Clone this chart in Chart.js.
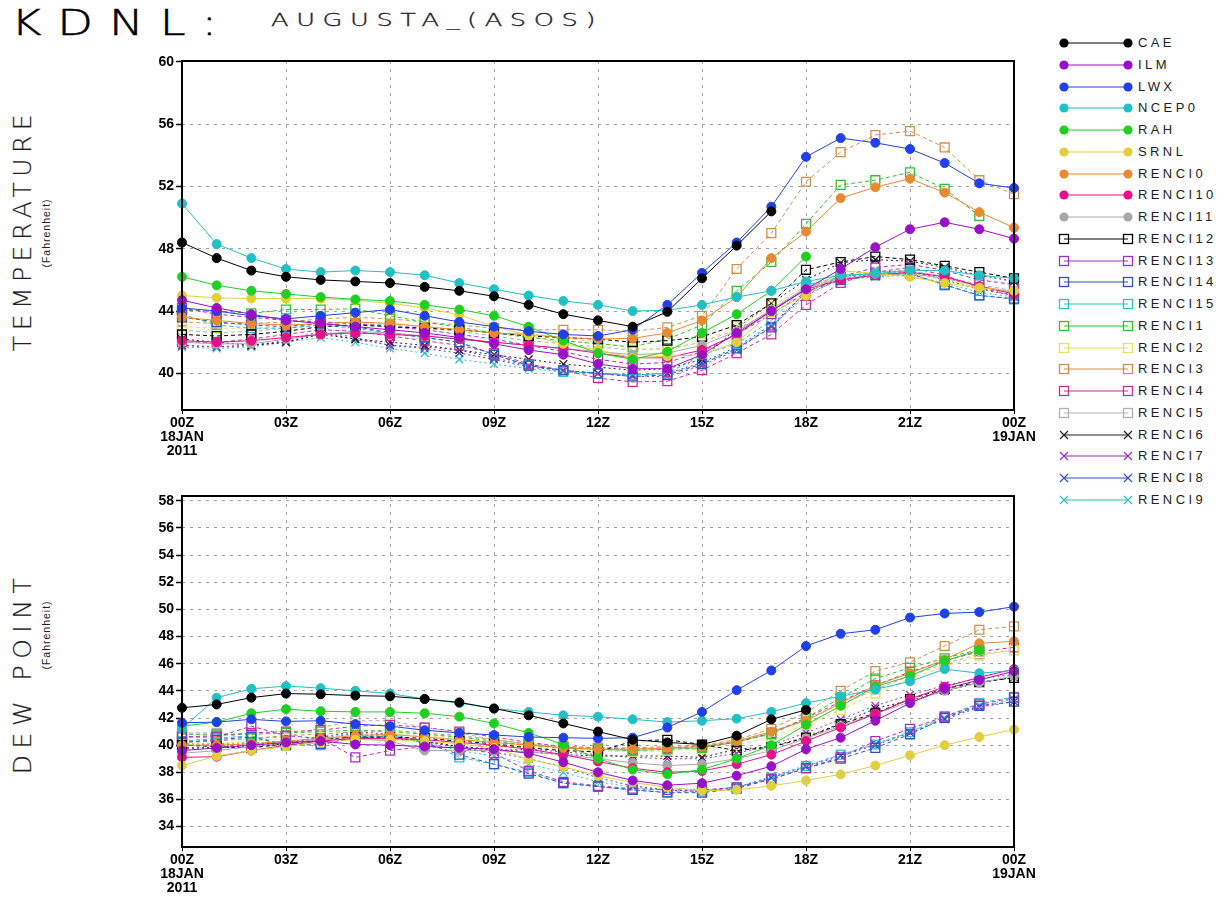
<!DOCTYPE html>
<html>
<head>
<meta charset="utf-8">
<script src="https://cdn.jsdelivr.net/npm/chart.js@4.4.1/dist/chart.umd.min.js"></script>
<style>
  body { margin: 0; background: #fff; width: 1223px; height: 901px; position: relative; overflow: hidden;
         font-family: "Liberation Sans", Arial, sans-serif; }
  .abs { position: absolute; white-space: nowrap; }
  .thin { font-family: "DejaVu Sans", "Liberation Sans"; font-weight: 200; color: #000; -webkit-text-stroke: 0.5px #000; }
  .rot { position: absolute; transform: translate(-50%, -50%) rotate(-90deg); white-space: nowrap; color: #222; }
  #legend .item { position: absolute; left: 1058px; height: 16px; }
  #legend .item span { position: absolute; left: 80px; top: 0px; font-size: 13px; letter-spacing: 3.4px; color: #222; line-height: 16px; }
</style>
</head>
<body>
<div id="t1" class="abs thin" style="left:11px;top:3px;font-size:35px;letter-spacing:12px;transform-origin:0 0;">KDNL:</div>
<div id="t2" class="abs thin" style="left:271px;top:10px;font-size:17px;letter-spacing:5px;transform-origin:0 0;-webkit-text-stroke:0.3px #222;color:#222;">AUGUSTA_(ASOS)</div>

<div class="rot thin" style="left:22px;top:230px;font-size:25px;letter-spacing:5.5px;color:#222;-webkit-text-stroke:0.2px #222;">TEMPERATURE</div>
<div class="rot" style="left:46px;top:233px;font-size:10.5px;letter-spacing:1px;">(Fahrenheit)</div>
<div class="rot thin" style="left:22px;top:673px;font-size:25px;letter-spacing:6.5px;color:#222;-webkit-text-stroke:0.2px #222;">DEW POINT</div>
<div class="rot" style="left:46px;top:635px;font-size:10.5px;letter-spacing:1px;">(Fahrenheit)</div>

<div class="abs" style="left:130px;top:50px;width:909px;height:410px;"><canvas id="temp"></canvas></div>
<div class="abs" style="left:130px;top:486px;width:909px;height:416px;"><canvas id="dew"></canvas></div>
<div id="legend"></div>

<script>
// hours 00Z 18 Jan -> 00Z 19 Jan
const hours = ["00","01","02","03","04","05","06","07","08","09","10","11","12",
               "13","14","15","16","17","18","19","20","21","22","23","00"];
const tempTicks = [40, 44, 48, 52, 56, 60];
const dewTicks = [34, 36, 38, 40, 42, 44, 46, 48, 50, 52, 54, 56, 58];

const names = ["CAE","ILM","LWX","NCEP0","RAH","SRNL","RENCI0","RENCI10","RENCI11","RENCI12","RENCI13",
               "RENCI14","RENCI15","RENCI1","RENCI2","RENCI3","RENCI4","RENCI5","RENCI6","RENCI7","RENCI8","RENCI9"];
const colors = ["#000000","#9a10c8","#2040e8","#20c0c4","#20d020","#e0d040","#e88a30","#e8108a","#a8a8a8","#000000","#a030c0",
                "#3050c8","#30c0d0","#30c030","#e8e060","#d09050","#c83090","#b0b0b0","#202020","#a030c0","#3050c8","#30c0c0"];
const kinds = ["dot","dot","dot","dot","dot","dot","dot","dot","dot","sq","sq",
               "sq","sq","sq","sq","sq","sq","sq","x","x","x","x"];

// temperature (F)
const t_CAE    = [48.4,47.4,46.6,46.2,46.0,45.9,45.8,45.55,45.3,44.95,44.4,43.8,43.4,43.0,43.95,46.1,48.2,50.4,null,null,null,null,null,null,null];
const t_ILM    = [44.7,44.2,43.8,43.4,43.2,43.0,42.8,42.6,42.3,41.9,41.5,41.2,40.6,40.3,40.3,41.2,42.6,44.0,45.4,46.7,48.1,49.25,49.7,49.25,48.65];
const t_LWX    = [44.2,44.0,43.7,43.5,43.7,43.9,44.1,43.7,43.3,43.0,42.7,42.5,42.4,42.8,44.4,46.45,48.4,50.7,53.9,55.1,54.8,54.4,53.5,52.2,51.9];
const t_NCEP0  = [50.9,48.3,47.4,46.7,46.5,46.6,46.5,46.3,45.8,45.4,45.0,44.65,44.4,44.0,44.05,44.4,44.9,45.3,45.9,46.3,46.4,46.6,46.6,46.3,46.1];
const t_RAH    = [46.2,45.65,45.3,45.1,44.9,44.75,44.65,44.4,44.1,43.7,43.0,42.1,41.3,40.9,41.4,42.6,43.8,45.3,47.5,null,null,null,null,null,null];
const t_SRNL   = [45.0,44.85,44.8,44.8,44.8,44.7,44.5,44.2,43.75,43.0,42.45,41.9,41.5,41.0,41.1,41.2,42.0,43.9,45.0,46.6,46.4,46.2,45.8,45.5,45.3];
const t_RENCI0 = [43.6,43.4,43.2,43.1,43.2,43.3,43.2,43.0,42.8,42.6,42.5,42.3,42.2,42.25,42.6,43.4,44.9,47.4,49.1,51.25,51.95,52.5,51.6,50.35,49.35];
const t_RENCI10= [42.1,42.0,42.1,42.3,42.5,42.6,42.5,42.4,42.2,42.0,41.8,41.6,41.3,41.0,41.0,41.5,42.5,44.0,45.4,46.0,46.3,46.5,46.2,45.6,45.1];
const t_RENCI11= [42.0,41.9,41.9,42.2,42.5,42.7,42.6,42.4,42.2,42.0,41.8,41.6,41.4,41.2,41.3,41.8,42.7,44.1,45.5,46.1,46.3,46.4,46.1,45.6,45.2];
const t_RENCI12= [42.5,42.4,42.5,42.7,43.0,43.1,43.0,42.9,42.8,42.6,42.4,42.3,42.2,42.0,42.1,42.35,43.1,44.5,46.65,47.15,47.5,47.3,46.9,46.5,46.1];
const t_RENCI13= [44.2,43.8,43.6,43.4,43.3,43.2,43.0,42.8,42.5,42.2,41.8,41.4,40.9,40.6,40.7,41.4,42.5,43.8,45.2,46.2,46.8,47.0,46.6,46.0,45.7];
const t_RENCI14= [43.6,43.3,43.1,43.0,43.2,43.0,42.6,42.3,42.0,41.2,40.5,40.2,40.0,39.8,39.9,40.6,41.6,42.95,45.25,46.0,46.3,46.4,45.7,45.0,44.8];
const t_RENCI15= [43.8,43.1,42.9,42.9,43.1,42.9,42.6,42.3,42.0,41.2,40.5,40.1,40.0,39.9,40.0,41.2,41.9,43.4,45.65,46.2,46.4,46.4,45.65,45.0,44.75];
const t_RENCI1 = [44.05,44.0,43.85,44.1,44.1,44.15,43.7,43.3,42.95,42.6,42.3,42.1,41.9,41.7,42.2,43.1,45.3,47.15,49.6,52.1,52.4,52.9,51.85,50.1,null];
const t_RENCI2 = [43.0,42.9,42.9,43.0,43.2,43.3,43.2,43.0,42.8,42.6,42.4,42.3,42.0,41.6,41.5,42.0,43.0,44.3,45.6,46.3,46.5,46.4,46.0,45.5,45.2];
const t_RENCI3 = [43.3,43.2,43.2,43.3,43.5,43.6,43.5,43.3,43.1,42.9,42.8,42.8,42.8,42.7,42.95,43.7,46.7,49.0,52.3,54.2,55.3,55.55,54.5,52.4,51.5];
const t_RENCI4 = [42.0,42.0,42.2,42.5,42.8,42.7,42.4,42.1,41.8,41.3,40.6,40.2,39.7,39.45,39.5,40.2,41.3,42.5,44.4,45.8,46.5,46.8,46.3,45.5,45.0];
const t_RENCI5 = [42.8,42.6,42.7,42.9,43.1,43.2,43.1,42.9,42.7,42.4,42.1,41.9,41.7,41.5,41.6,42.0,42.8,44.0,45.5,46.2,46.5,46.6,46.2,45.7,45.3];
const t_RENCI6 = [42.2,42.0,41.8,42.0,42.5,42.2,42.0,41.8,41.5,41.2,40.9,40.6,40.4,40.2,40.3,40.9,42.9,44.5,46.0,47.1,47.3,47.2,46.8,46.3,45.9];
const t_RENCI7 = [41.8,41.7,41.8,42.0,42.6,42.2,41.8,41.7,41.5,41.0,40.5,40.2,40.0,39.8,39.8,40.5,41.5,43.0,45.0,46.1,46.4,46.5,46.2,45.6,45.1];
const t_RENCI8 = [41.8,41.7,41.8,42.1,42.7,42.3,41.8,41.6,41.3,40.9,40.4,40.2,40.0,39.9,40.0,40.7,41.7,43.1,45.2,46.2,46.5,46.6,46.0,45.4,45.0];
const t_RENCI9 = [41.7,41.6,41.7,42.0,42.3,42.0,41.6,41.3,40.9,40.6,40.3,40.1,40.0,39.9,40.0,40.6,41.6,43.0,45.1,46.0,46.2,46.3,45.8,45.2,44.9];

// dew point (F)
const d_CAE    = [42.75,43.0,43.5,43.8,43.75,43.65,43.6,43.4,43.15,42.7,42.2,41.6,41.0,40.4,40.2,40.05,40.7,41.9,42.6,null,null,null,null,null,null];
const d_ILM    = [39.6,39.8,40.0,40.2,40.3,40.05,40.0,39.9,39.8,39.7,39.4,38.75,38.0,37.4,37.05,37.2,37.75,38.45,39.7,40.55,41.8,43.1,44.15,44.8,45.45];
const d_LWX    = [41.65,41.7,41.9,41.75,41.8,41.55,41.4,41.1,40.9,40.75,40.6,40.55,40.5,40.55,41.3,42.45,44.05,45.5,47.3,48.2,48.5,49.4,49.7,49.8,50.2];
const d_NCEP0  = [41.2,43.5,44.15,44.35,44.2,44.0,43.8,43.4,43.1,42.7,42.45,42.2,42.1,41.9,41.7,41.8,41.95,42.45,43.1,43.6,44.1,44.7,45.6,45.3,45.5];
const d_RAH    = [41.4,41.7,42.35,42.65,42.5,42.45,42.45,42.35,42.1,41.6,40.9,40.05,39.0,38.2,37.85,38.2,39.0,40.0,41.5,42.9,44.3,45.1,46.2,47.0,null];
const d_SRNL   = [38.5,39.2,39.6,39.9,40.2,40.4,40.4,40.3,40.1,39.8,38.95,38.4,37.75,37.25,36.9,36.65,36.7,37.0,37.4,37.85,38.5,39.25,40.0,40.6,41.15];
const d_RENCI0 = [40.0,40.0,40.1,40.3,40.5,40.7,40.8,40.6,40.4,40.2,40.0,39.8,39.7,39.7,39.8,39.9,40.3,41.0,41.8,43.1,44.4,45.3,46.3,47.5,47.65];
const d_RENCI10= [39.1,39.15,39.6,40.0,40.3,40.5,40.5,40.4,40.2,40.0,39.7,39.3,38.8,38.3,38.0,38.1,38.6,39.3,40.3,41.3,42.3,43.4,44.3,45.0,45.6];
const d_RENCI11= [39.4,39.6,39.9,40.2,40.4,40.5,40.3,39.6,39.6,39.6,39.5,39.3,39.0,38.7,38.5,38.6,39.0,39.6,40.5,41.4,42.3,43.2,44.0,44.6,45.1];
const d_RENCI12= [40.0,39.9,39.8,40.1,40.4,40.6,40.6,40.5,40.3,40.1,39.8,39.6,39.5,40.3,40.4,40.05,39.6,39.85,40.55,41.55,42.35,43.4,44.15,44.65,44.95];
const d_RENCI13= [40.6,40.6,41.4,40.7,40.5,39.1,39.6,39.9,39.8,39.4,38.1,37.3,37.0,36.8,36.7,36.7,36.9,37.5,38.3,39.1,40.3,41.2,42.1,43.0,43.5];
const d_RENCI14= [40.2,40.4,40.6,40.0,40.1,40.5,40.6,40.2,39.3,38.6,37.9,37.2,36.95,36.7,36.5,36.5,36.8,37.5,38.3,39.0,39.8,40.8,42.0,42.9,43.2];
const d_RENCI15= [40.3,40.5,40.7,40.0,40.0,40.6,40.7,40.3,39.1,38.6,38.0,37.2,36.95,36.7,36.55,36.6,36.9,37.6,38.45,39.3,40.05,40.95,42.1,43.1,43.55];
const d_RENCI1 = [40.8,40.8,40.8,40.9,41.0,41.1,41.0,40.8,40.6,40.3,40.0,39.8,39.7,39.6,39.7,39.8,40.3,40.8,42.0,43.5,44.9,45.7,46.4,47.05,null];
const d_RENCI2 = [40.0,40.1,40.3,40.5,40.6,40.8,40.8,40.7,40.5,40.2,39.9,39.7,39.6,39.5,39.6,39.7,40.0,40.6,41.5,42.6,43.8,44.9,45.8,46.6,47.0];
const d_RENCI3 = [40.2,40.3,40.5,40.7,40.8,41.0,41.1,40.9,40.7,40.4,40.1,39.9,39.8,39.8,39.9,40.0,40.4,41.2,42.4,44.0,45.45,46.1,47.3,48.5,48.75];
const d_RENCI4 = [40.6,40.7,40.9,41.0,41.1,41.4,41.5,41.3,41.0,40.6,40.2,39.9,39.8,39.7,39.8,39.9,40.2,40.9,42.0,43.2,44.4,45.4,46.2,46.9,47.2];
const d_RENCI5 = [40.9,40.9,40.5,40.6,41.3,41.8,41.8,41.3,40.9,40.4,40.1,39.8,39.7,39.6,39.7,39.8,40.2,40.9,41.9,43.0,44.1,45.1,46.0,46.7,47.0];
const d_RENCI6 = [39.8,39.8,39.9,40.1,40.4,40.6,40.5,40.3,39.9,39.7,39.5,39.3,39.2,39.2,39.2,39.1,39.7,39.9,40.6,41.6,42.7,43.3,44.0,44.6,45.0];
const d_RENCI7 = [39.7,39.9,40.0,40.2,40.6,40.8,40.6,40.2,39.9,39.6,39.7,39.5,39.3,39.1,39.0,39.0,39.4,40.0,40.9,41.9,42.9,43.7,44.4,44.9,45.2];
const d_RENCI8 = [40.0,40.0,40.1,40.1,40.6,41.0,40.8,40.3,39.8,39.5,39.0,38.4,37.6,37.0,36.7,36.6,36.9,37.6,38.4,39.2,40.0,40.9,41.9,42.8,43.2];
const d_RENCI9 = [40.1,40.1,40.2,40.1,40.5,40.9,40.7,40.2,39.6,39.2,38.6,38.0,37.3,36.9,36.7,36.6,36.9,37.7,38.5,39.3,40.1,41.0,42.0,42.9,43.4];

const tempSeries = [t_CAE,t_ILM,t_LWX,t_NCEP0,t_RAH,t_SRNL,t_RENCI0,t_RENCI10,t_RENCI11,t_RENCI12,t_RENCI13,
                    t_RENCI14,t_RENCI15,t_RENCI1,t_RENCI2,t_RENCI3,t_RENCI4,t_RENCI5,t_RENCI6,t_RENCI7,t_RENCI8,t_RENCI9];
const dewSeries = [d_CAE,d_ILM,d_LWX,d_NCEP0,d_RAH,d_SRNL,d_RENCI0,d_RENCI10,d_RENCI11,d_RENCI12,d_RENCI13,
                   d_RENCI14,d_RENCI15,d_RENCI1,d_RENCI2,d_RENCI3,d_RENCI4,d_RENCI5,d_RENCI6,d_RENCI7,d_RENCI8,d_RENCI9];

// stretch the two header lines to the widths they have in the plot
const fitWidth = (id, w) => {
  const el = document.getElementById(id);
  el.style.transform = `scaleX(${w / el.getBoundingClientRect().width})`;
};
fitWidth("t1", 222);
fitWidth("t2", 332);

const makeSets = (series) => names.map((n, i) => {
  const k = kinds[i];
  return {
    label: n,
    data: series[i],
    borderColor: colors[i],
    backgroundColor: k === "dot" ? colors[i] : "rgba(0,0,0,0)",
    pointStyle: k === "dot" ? "circle" : k === "sq" ? "rect" : "crossRot",
    pointRadius: k === "dot" ? 4.5 : k === "sq" ? 6.3 : 5.5,
    pointBorderWidth: k === "dot" ? 1 : 1.3,
    borderWidth: 1,
    borderDash: k === "dot" ? [] : k === "sq" ? [4, 3] : [2, 3],
    tension: 0,
    spanGaps: false,
  };
});

// black box round the plot area
const frame = {
  id: "frame",
  afterDatasetsDraw(chart) {
    const { ctx, chartArea: a } = chart;
    ctx.save();
    ctx.strokeStyle = "#000";
    ctx.lineWidth = 2;
    ctx.strokeRect(a.left, a.top, a.right - a.left, a.bottom - a.top);
    ctx.restore();
  },
};

const xLabel = (i) => {
  if (i === 0) return ["00Z", "18JAN", "2011"];
  if (i === 24) return ["00Z", "19JAN"];
  return hours[i] + "Z";
};

const tickFont = { family: "'Liberation Sans', Arial", size: 14, weight: "bold", lineHeight: 1.0 };

const makeChart = (id, series, ticks, ymin, ymax, xh, padTop) => new Chart(document.getElementById(id), {
  type: "line",
  data: { labels: hours, datasets: makeSets(series) },
  options: {
    animation: false,
    responsive: true,
    maintainAspectRatio: false,
    layout: { autoPadding: false, padding: { top: padTop, right: 25, left: 0, bottom: 0 } },
    plugins: { legend: { display: false }, tooltip: { enabled: false } },
    scales: {
      x: {
        type: "category",
        offset: false,
        afterFit: (s) => { s.height = xh; },
        border: { display: false, dash: [3, 5] },
        grid: { color: "#a0a0a0", tickLength: 4, tickColor: "#000", tickBorderDash: [] },
        ticks: {
          autoSkip: false, maxRotation: 0, padding: 2, color: "#000", font: tickFont,
          callback: (v, i) => (i % 3 === 0 ? xLabel(i) : null),
        },
      },
      y: {
        min: ymin,
        max: ymax,
        afterFit: (s) => { s.width = 52; },
        afterBuildTicks: (s) => { s.ticks = ticks.map((v) => ({ value: v })); },
        border: { display: false, dash: [3, 5] },
        grid: { color: "#a0a0a0", tickLength: 6, tickColor: "#000", tickWidth: 1.5, tickBorderDash: [] },
        ticks: { padding: 2, color: "#000", font: tickFont },
      },
    },
  },
  plugins: [frame],
});

makeChart("temp", tempSeries, tempTicks, 37.65, 60.05, 50, 11);
makeChart("dew", dewSeries, dewTicks, 32.5, 58.35, 55, 10);

// legend: line with a marker at each end, then the name
const legend = document.getElementById("legend");
names.forEach((n, i) => {
  const k = kinds[i], c = colors[i];
  const mark = (x) => {
    if (k === "dot") return `<circle cx="${x}" cy="8" r="4.6" fill="${c}"/>`;
    if (k === "sq") return `<rect x="${x - 4.5}" y="3.5" width="9" height="9" fill="none" stroke="${c}" stroke-width="1.3"/>`;
    return `<path d="M${x - 4} 4 L${x + 4} 12 M${x - 4} 12 L${x + 4} 4" stroke="${c}" stroke-width="1.2"/>`;
  };
  const el = document.createElement("div");
  el.className = "item";
  el.style.top = (35 + i * 21.75) + "px";
  el.innerHTML = `<svg width="80" height="16" style="position:absolute;left:0;top:0">
      <line x1="6" y1="8" x2="70" y2="8" stroke="${c}" stroke-width="1.2"/>${mark(6)}${mark(70)}</svg><span>${n}</span>`;
  legend.appendChild(el);
});
</script>
</body>
</html>
